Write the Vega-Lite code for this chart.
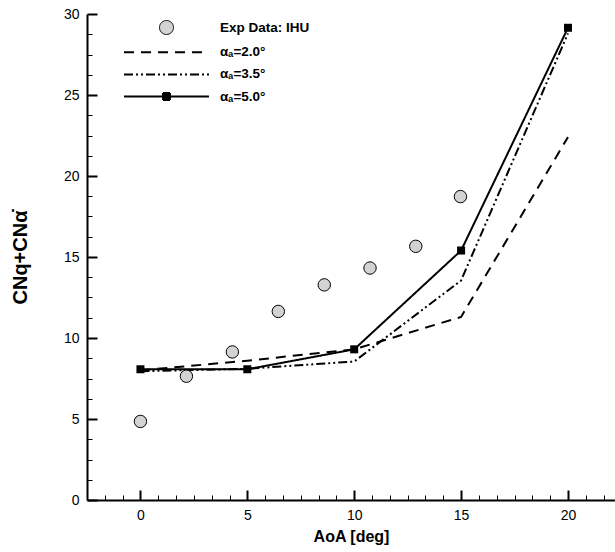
{
  "$schema": "https://vega.github.io/schema/vega-lite/v6.json",
  "width": 528,
  "height": 486,
  "autosize": {"type": "none"},
  "padding": {"left": 87, "top": 14, "right": 0, "bottom": 52},
  "background": "white",
  "config": {
    "view": {"stroke": null},
    "font": "Liberation Sans",
    "axis": {
      "labelFont": "Liberation Sans",
      "titleFont": "Liberation Sans",
      "domainColor": "black",
      "tickColor": "black",
      "labelColor": "black",
      "titleColor": "black",
      "grid": false
    },
    "legend": {
      "orient": "none",
      "legendX": 36,
      "legendY": 6,
      "symbolSize": 196,
      "rowPadding": 7.2,
      "labelOffset": 81,
      "labelFont": "Liberation Sans",
      "labelFontSize": 13.5,
      "labelFontWeight": "bold",
      "labelColor": "black",
      "symbolStrokeWidth": 2,
      "symbolOpacity": 1
    }
  },
  "datasets": {
    "model": [
      {"series": "αₐ=2.0°", "aoa": 0, "cn": 8.0},
      {"series": "αₐ=2.0°", "aoa": 5, "cn": 8.6},
      {"series": "αₐ=2.0°", "aoa": 10, "cn": 9.3},
      {"series": "αₐ=2.0°", "aoa": 15, "cn": 11.3},
      {"series": "αₐ=2.0°", "aoa": 20, "cn": 22.4},
      {"series": "αₐ=3.5°", "aoa": 0, "cn": 7.95},
      {"series": "αₐ=3.5°", "aoa": 5, "cn": 8.1},
      {"series": "αₐ=3.5°", "aoa": 10, "cn": 8.55},
      {"series": "αₐ=3.5°", "aoa": 15, "cn": 13.55},
      {"series": "αₐ=3.5°", "aoa": 20, "cn": 28.8},
      {"series": "αₐ=5.0°", "aoa": 0, "cn": 8.07},
      {"series": "αₐ=5.0°", "aoa": 5, "cn": 8.07},
      {"series": "αₐ=5.0°", "aoa": 10, "cn": 9.3},
      {"series": "αₐ=5.0°", "aoa": 15, "cn": 15.4},
      {"series": "αₐ=5.0°", "aoa": 20, "cn": 29.15}
    ],
    "exp": [
      {"series": "Exp Data: IHU", "aoa": 0, "cn": 4.85},
      {"series": "Exp Data: IHU", "aoa": 2.15, "cn": 7.64},
      {"series": "Exp Data: IHU", "aoa": 4.3, "cn": 9.14},
      {"series": "Exp Data: IHU", "aoa": 6.45, "cn": 11.64},
      {"series": "Exp Data: IHU", "aoa": 8.6, "cn": 13.28},
      {"series": "Exp Data: IHU", "aoa": 10.74, "cn": 14.32},
      {"series": "Exp Data: IHU", "aoa": 12.88, "cn": 15.66},
      {"series": "Exp Data: IHU", "aoa": 14.97, "cn": 18.73}
    ]
  },
  "resolve": {"axis": {"x": "independent", "y": "independent"}},
  "layer": [
    {
      "data": {"name": "model"},
      "mark": {"type": "line", "strokeWidth": 2, "color": "black", "strokeJoin": "miter", "clip": true},
      "encoding": {
        "x": {
          "field": "aoa", "type": "quantitative",
          "scale": {"domain": [-2.5, 22.2], "nice": false, "zero": false},
          "axis": {
            "orient": "bottom",
            "values": [-1.6667, -0.8333, 0.8333, 1.6667, 2.5, 3.3333, 4.1667, 5.8333, 6.6667, 7.5, 8.3333, 9.1667, 10.8333, 11.6667, 12.5, 13.3333, 14.1667, 15.8333, 16.6667, 17.5, 18.3333, 19.1667, 20.8333, 21.6667],
            "tickSize": -5, "tickWidth": 1, "labels": false, "domain": false, "title": null
          }
        },
        "y": {
          "field": "cn", "type": "quantitative",
          "scale": {"domain": [0, 30], "nice": false, "zero": false},
          "axis": {
            "orient": "left",
            "values": [1.25, 2.5, 3.75, 6.25, 7.5, 8.75, 11.25, 12.5, 13.75, 16.25, 17.5, 18.75, 21.25, 22.5, 23.75, 26.25, 27.5, 28.75],
            "tickSize": -5, "tickWidth": 1, "labels": false, "domain": false, "title": null
          }
        },
        "strokeDash": {
          "field": "series", "type": "nominal",
          "scale": {
            "domain": ["Exp Data: IHU", "αₐ=2.0°", "αₐ=3.5°", "αₐ=5.0°"],
            "range": [[1, 0], [10, 7], [9, 3, 2, 3, 2, 3], [1, 0]]
          },
          "legend": {"title": null}
        }
      }
    },
    {
      "data": {"name": "exp"},
      "transform": [{"filter": "datum.aoa < -100"}],
      "mark": {"type": "point", "filled": true, "opacity": 1},
      "encoding": {
        "x": {"field": "aoa", "type": "quantitative", "axis": null},
        "y": {"field": "cn", "type": "quantitative", "axis": null},
        "shape": {
          "field": "series", "type": "nominal",
          "scale": {
            "domain": ["Exp Data: IHU", "αₐ=2.0°", "αₐ=3.5°", "αₐ=5.0°"],
            "range": [
              "M4.07,0A1,1,0,1,1,6.07,0A1,1,0,1,1,4.07,0Z",
              "M-1,0H11.14",
              "M-1,0H11.14",
              "M-1,0H11.14M4.57,-0.5H5.57V0.5H4.57Z"
            ]
          },
          "legend": {"title": null}
        },
        "fill": {
          "field": "series", "type": "nominal",
          "scale": {
            "domain": ["Exp Data: IHU", "αₐ=2.0°", "αₐ=3.5°", "αₐ=5.0°"],
            "range": ["#d3d3d3", "black", "black", "black"]
          },
          "legend": {"title": null}
        },
        "stroke": {
          "field": "series", "type": "nominal",
          "scale": {
            "domain": ["Exp Data: IHU", "αₐ=2.0°", "αₐ=3.5°", "αₐ=5.0°"],
            "range": ["black", "black", "black", "black"]
          },
          "legend": {"title": null}
        },
        "strokeWidth": {
          "field": "series", "type": "nominal",
          "scale": {
            "type": "ordinal",
            "domain": ["Exp Data: IHU", "αₐ=2.0°", "αₐ=3.5°", "αₐ=5.0°"],
            "range": [1, 2, 2, 2]
          },
          "legend": {"title": null}
        }
      }
    },
    {
      "data": {"name": "model"},
      "transform": [{"filter": "datum.series === 'αₐ=5.0°'"}],
      "mark": {"type": "square", "size": 64, "color": "black", "filled": true, "opacity": 1},
      "encoding": {
        "x": {"field": "aoa", "type": "quantitative", "axis": null},
        "y": {"field": "cn", "type": "quantitative", "axis": null}
      }
    },
    {
      "data": {"name": "exp"},
      "mark": {"type": "point", "shape": "circle", "filled": true, "fill": "#d3d3d3", "stroke": "black", "strokeWidth": 1, "size": 154, "opacity": 1},
      "encoding": {
        "x": {
          "field": "aoa", "type": "quantitative",
          "axis": {
            "orient": "bottom",
            "values": [0, 5, 10, 15, 20],
            "tickSize": -10, "tickWidth": 2, "domain": true, "domainWidth": 2,
            "labelFontSize": 14, "labelPadding": 18, "labelFlush": false,
            "title": "AoA [deg]", "titleFontSize": 16, "titleFontWeight": "bold", "titlePadding": 6
          }
        },
        "y": {
          "field": "cn", "type": "quantitative",
          "axis": {
            "orient": "left",
            "values": [0, 5, 10, 15, 20, 25, 30],
            "tickSize": -10, "tickWidth": 2, "domain": true, "domainWidth": 2,
            "labelFontSize": 14, "labelPadding": 18, "labelFlush": false,
            "title": "CNq+CNα̇", "titleFontSize": 20, "titleFontWeight": "bold", "titlePadding": 33
          }
        }
      }
    }
  ]
}
